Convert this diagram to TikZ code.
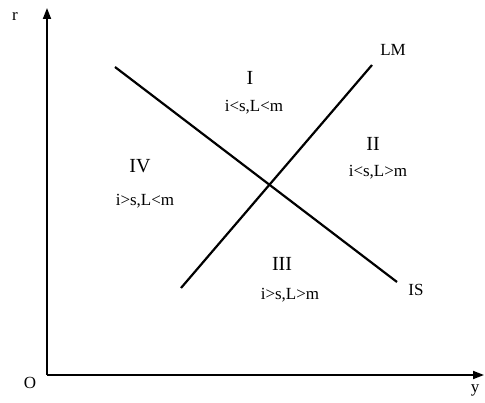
\documentclass[tikz,border=0pt]{standalone}
\usepackage{fontspec}
\setmainfont{Liberation Serif}
\usetikzlibrary{arrows.meta}
\begin{document}
\begin{tikzpicture}[x=1pt, y=-1pt, font=\fontsize{17}{20}\selectfont,
  axis/.style={line width=1.8pt, -{Triangle[length=11pt,width=8pt]}},
  curve/.style={line width=2.2pt},
  lab/.style={inner sep=0pt, anchor=center},
  numeral/.style={lab, font=\fontsize{20}{22}\selectfont}]
\useasboundingbox (0,0) rectangle (485,403);
% axes
\coordinate (O) at (47,375);
\coordinate (rtop) at (47,8);
\coordinate (yend) at (484,375);
\draw[axis] (O) -- (rtop);
\draw[axis] (O) -- (yend);
\node[lab] (r) at (15,16) {r};
\node[lab] (o) at (30,383) {O};
\node[lab] (y) at (475,390) {y};
% IS and LM curves
\coordinate (lm1) at (181,288);
\coordinate (lm2) at (372,65);
\coordinate (is1) at (115,67);
\coordinate (is2) at (397,282);
\draw[curve] (lm1) -- (lm2);
\draw[curve] (is1) -- (is2);
\node[lab] (lm) at (393,50) {LM};
\node[lab] (is) at (416,290) {IS};
% regions
\node[numeral] (r1) at (250,78) {I};
\node[lab] (t1) at (254,107) {i<s,L<m};
\node[numeral] (r2) at (373,144) {II};
\node[lab] (t2) at (378,172) {i<s,L>m};
\node[numeral] (r4) at (140,166) {IV};
\node[lab] (t4) at (145,201) {i>s,L<m};
\node[numeral] (r3) at (282,264) {III};
\node[lab] (t3) at (290,295) {i>s,L>m};
\end{tikzpicture}
\end{document}
